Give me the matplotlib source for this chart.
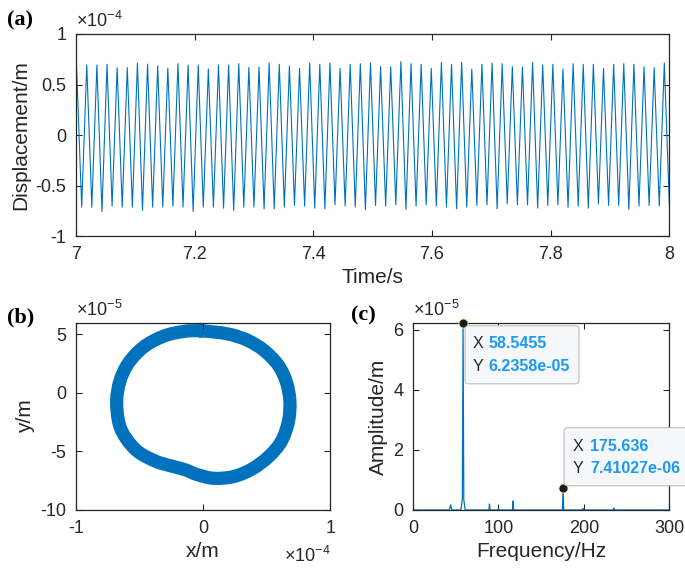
import numpy as np
import matplotlib.pyplot as plt
from matplotlib.ticker import FuncFormatter
from matplotlib.patches import FancyBboxPatch, PathPatch
from matplotlib.path import Path

plt.rcParams['font.family'] = ['Liberation Sans', 'DejaVu Sans']
plt.rcParams['mathtext.fontset'] = 'custom'
plt.rcParams['mathtext.rm'] = 'Liberation Sans'
plt.rcParams['mathtext.it'] = 'Liberation Sans:italic'
plt.rcParams['axes.unicode_minus'] = False

BLUE = '#0072BD'
DARK = '#262626'
TIP = '#1a9af0'

# (a) time response: peak / trough heights of each cycle (x1e-4 m)
f_main = 58.5455          # Hz, from the data tip
t_first_peak = 7.001
peaks = [0.660, 0.693, 0.693, 0.700, 0.667, 0.667, 0.713, 0.703, 0.683, 0.660,
         0.706, 0.693, 0.693, 0.653, 0.693, 0.693, 0.706, 0.670, 0.673, 0.713,
         0.700, 0.683, 0.660, 0.713, 0.700, 0.713, 0.660, 0.700, 0.706, 0.713,
         0.677, 0.677, 0.726, 0.706, 0.700, 0.660, 0.719, 0.700, 0.719,
         0.653, 0.700, 0.713, 0.706, 0.677, 0.673, 0.719, 0.693, 0.700, 0.653,
         0.706, 0.700, 0.700, 0.660, 0.700, 0.706, 0.700, 0.677, 0.667, 0.713]
troughs = [-0.700,
           -0.713, -0.713, -0.756, -0.703, -0.713, -0.713, -0.746, -0.713, -0.713, -0.703,
           -0.713, -0.756, -0.713, -0.713, -0.723, -0.746, -0.713, -0.713, -0.730,
           -0.730, -0.713, -0.696, -0.703, -0.723, -0.730, -0.690, -0.703, -0.713, -0.736,
           -0.696, -0.703, -0.690, -0.736, -0.703, -0.690, -0.703, -0.713, -0.730, -0.713,
           -0.696, -0.690, -0.730, -0.680, -0.690, -0.690, -0.723, -0.696, -0.690, -0.713,
           -0.703, -0.723, -0.680, -0.696, -0.696, -0.736, -0.703, -0.696, -0.703,
           -0.700]

# (b) orbit centre line: x (x1e-4 m), y (x1e-5 m), closed loop
orbit_x = [-0.021, 0.189, 0.346, 0.478, 0.590, 0.655, 0.683, 0.672, 0.617, 0.517,
           0.386, 0.241, 0.084, -0.047, -0.139, -0.244, -0.367, -0.507, -0.604, -0.661,
           -0.680, -0.655, -0.588, -0.467, -0.310, -0.152]
orbit_y = [5.31, 5.06, 4.52, 3.65, 2.40, 0.95, -0.70, -2.40, -4.11, -5.43,
           -6.49, -7.14, -7.29, -6.97, -6.57, -6.26, -5.86, -5.06, -3.91, -2.63,
           -0.70, 1.00, 2.55, 3.94, 4.86, 5.26]

# (c) amplitude spectrum (x1e-5 m)
spec_f = [0, 42.5, 44.0, 45.5, 56.0, 57.7, 58.5455, 59.4, 61.0, 88.8, 89.5, 90.2,
          99.5, 100.0, 100.5, 116.3, 117.0, 117.7, 174.9, 175.636, 176.4,
          198.5, 199.0, 199.5, 234.3, 235.0, 235.7, 300]
spec_a = [0, 0, 0.17, 0, 0, 0.35, 6.2358, 0.35, 0, 0, 0.20, 0,
          0, 0.05, 0, 0, 0.30, 0, 0, 0.741027, 0,
          0, 0.05, 0, 0, 0.07, 0, 0]
tips = [(58.5455, 6.2358e-05, '58.5455', '6.2358e-05'),
        (175.636, 7.41027e-06, '175.636', '7.41027e-06')]

fig = plt.figure(figsize=(6.85, 5.76), dpi=100)
ax1 = fig.add_axes([0.111, 0.590, 0.866, 0.351])
ax2 = fig.add_axes([0.111, 0.1146, 0.371, 0.325])
ax3 = fig.add_axes([0.603, 0.1146, 0.374, 0.325])


def style(ax):
    ax.tick_params(direction='in', top=True, right=True, length=4, width=0.8,
                   labelsize=13, colors=DARK, pad=7)
    for s in ax.spines.values():
        s.set_color(DARK)
        s.set_linewidth(0.9)


def scaled(k):
    return FuncFormatter(lambda v, p: f'{v / 10 ** k:g}')


# (a)
n = len(peaks)
tp = t_first_peak + np.arange(n) / f_main
tt = t_first_peak + (np.arange(-1, n) + 0.5) / f_main
t = np.empty(2 * n + 1)
d = np.empty(2 * n + 1)
t[0::2], t[1::2] = tt, tp
d[0::2], d[1::2] = np.array(troughs) * 1e-4, np.array(peaks) * 1e-4
ax1.plot(t, d, color=BLUE, lw=0.8)
ax1.set_xlim(7, 8)
ax1.set_ylim(-1e-4, 1e-4)
ax1.set_xticks([7, 7.2, 7.4, 7.6, 7.8, 8])
ax1.xaxis.set_major_formatter(FuncFormatter(lambda v, p: f'{v:g}'))
ax1.set_yticks([-1e-4, -0.5e-4, 0, 0.5e-4, 1e-4])
ax1.yaxis.set_major_formatter(scaled(-4))
ax1.set_xlabel('Time/s', fontsize=15, color=DARK)
ax1.set_ylabel('Displacement/m', fontsize=15, color=DARK, labelpad=4)
style(ax1)
ax1.text(0, 1.015, r'$\times10^{-4}$', transform=ax1.transAxes, fontsize=13,
         color=DARK, ha='left', va='bottom')

# (b) orbit drawn as a smooth closed Bezier path through the read points
P = np.column_stack([np.array(orbit_x) * 1e-4, np.array(orbit_y) * 1e-5])
m = len(P)
verts = [P[0]]
codes = [Path.MOVETO]
for i in range(m):
    p0, p1, p2, p3 = P[i - 1], P[i], P[(i + 1) % m], P[(i + 2) % m]
    verts += [p1 + (p2 - p0) / 6, p2 - (p3 - p1) / 6, p2]
    codes += [Path.CURVE4] * 3
ax2.add_patch(PathPatch(Path(verts, codes), fill=False, ec=BLUE, lw=9.5,
                        joinstyle='round', capstyle='round'))
ax2.set_xlim(-1e-4, 1e-4)
ax2.set_ylim(-10e-5, 6e-5)
ax2.set_xticks([-1e-4, 0, 1e-4])
ax2.xaxis.set_major_formatter(scaled(-4))
ax2.set_yticks([-10e-5, -5e-5, 0, 5e-5])
ax2.yaxis.set_major_formatter(scaled(-5))
ax2.set_xlabel('x/m', fontsize=15, color=DARK)
ax2.set_ylabel('y/m', fontsize=15, color=DARK)
style(ax2)
ax2.text(0, 1.015, r'$\times10^{-5}$', transform=ax2.transAxes, fontsize=13,
         color=DARK, ha='left', va='bottom')
ax2.text(1, -0.19, r'$\times10^{-4}$', transform=ax2.transAxes, fontsize=13,
         color=DARK, ha='right', va='top')

# (c)
ax3.plot(spec_f, np.array(spec_a) * 1e-5, color=BLUE, lw=0.9)
ax3.set_xlim(0, 300)
ax3.set_ylim(0, 6.2358e-05)
ax3.set_xticks([0, 100, 200, 300])
ax3.set_yticks([0, 2e-5, 4e-5, 6e-5])
ax3.yaxis.set_major_formatter(scaled(-5))
ax3.set_xlabel('Frequency/Hz', fontsize=15, color=DARK)
ax3.set_ylabel('Amplitude/m', fontsize=15, color=DARK)
style(ax3)
ax3.text(0, 1.015, r'$\times10^{-5}$', transform=ax3.transAxes, fontsize=13,
         color=DARK, ha='left', va='bottom')

# data tips (offsets in pixels from the marked point)
boxes = [(2, -61, 114, 58, (10, -21), (10, -44), 25),
         (1, 2, 135, 58, (10, 41), (10, 19), 27)]
inv = fig.transFigure.inverted()
for (fx, fy, xs, ys), (bx, by, bw, bh, l1, l2, vx) in zip(tips, boxes):
    px, py = ax3.transData.transform((fx, fy))
    ax3.plot([fx], [fy], 'o', ms=6.5, color='#1a1a1a', mec='#f0e68c', mew=0.6,
             clip_on=False, zorder=6)
    x0, y0 = inv.transform((px + bx, py + by))
    x1, y1 = inv.transform((px + bx + bw, py + by + bh))
    fig.patches.append(FancyBboxPatch((x0, y0), x1 - x0, y1 - y0,
                                      boxstyle='round,pad=0,rounding_size=0.006',
                                      transform=fig.transFigure, fc='#f5f7fb',
                                      ec='#bfbfbf', lw=0.8, zorder=7))
    for (lx, ly), lab, val in [(l1, 'X', xs), (l2, 'Y', ys)]:
        a, b = inv.transform((px + lx, py + ly))
        fig.text(a, b, lab, fontsize=11.5, color=DARK, ha='left', va='center',
                 zorder=8)
        a, b = inv.transform((px + vx, py + ly))
        fig.text(a, b, val, fontsize=11.5, color=TIP, fontweight='bold',
                 ha='left', va='center', zorder=8)

# panel labels
for xy, lab in [((0.010, 0.965), '(a)'), ((0.010, 0.448), '(b)'),
                ((0.513, 0.452), '(c)')]:
    fig.text(xy[0], xy[1], lab, fontsize=16, fontweight='bold',
             family='Liberation Serif', color='black', va='center')

fig.savefig('out.png', dpi=100)
